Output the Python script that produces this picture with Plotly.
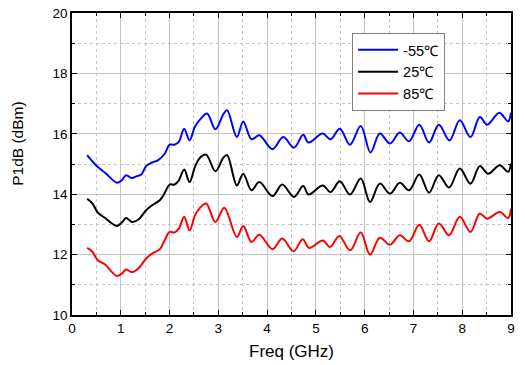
import plotly.graph_objects as go

# Blue (-55°C)
x_blue = [0.31, 0.49, 0.68, 0.92, 1.02, 1.11, 1.22, 1.33, 1.42, 1.52, 1.64, 1.76, 1.90, 2.00, 2.10, 2.19, 2.30, 2.41, 2.52, 2.65, 2.77, 2.94, 3.10, 3.18,
          3.38, 3.51, 3.68, 3.84, 4.11, 4.33, 4.55, 4.74, 4.85, 5.14, 5.30, 5.49, 5.70, 5.92, 6.12, 6.31, 6.52, 6.72, 6.91, 7.12, 7.32, 7.52, 7.74, 7.95,
          8.17, 8.36, 8.51, 8.76, 8.94, 9.0]
y_blue = [15.29, 14.96, 14.71, 14.38, 14.46, 14.63, 14.54, 14.60, 14.65, 14.93, 15.05, 15.12, 15.34, 15.64, 15.64, 15.73, 16.17, 15.78, 16.23, 16.52, 16.67, 16.15, 16.64, 16.78,
          15.89, 16.41, 15.82, 15.95, 15.49, 15.89, 15.54, 15.97, 15.71, 16.01, 15.82, 16.17, 15.64, 16.26, 15.38, 16.01, 15.68, 16.04, 15.75, 16.30, 15.71, 16.30, 15.78, 16.45,
          15.89, 16.56, 16.30, 16.70, 16.41, 16.70]

# Black (25°C)
x_black = [0.31, 0.42, 0.53, 0.68, 0.82, 0.92, 1.02, 1.11, 1.23, 1.37, 1.52, 1.64, 1.80, 1.91, 2.00, 2.10, 2.19, 2.30, 2.41, 2.52, 2.62, 2.75, 2.94, 3.10, 3.18,
           3.38, 3.51, 3.68, 3.84, 4.11, 4.31, 4.55, 4.74, 4.85, 5.14, 5.30, 5.49, 5.70, 5.92, 6.11, 6.31, 6.52, 6.72, 6.91, 7.12, 7.32, 7.52, 7.73, 7.95,
           8.17, 8.36, 8.53, 8.77, 8.94, 9.0]
y_black = [13.85, 13.69, 13.39, 13.21, 13.03, 12.95, 13.06, 13.21, 13.08, 13.17, 13.47, 13.63, 13.80, 14.07, 14.32, 14.32, 14.46, 14.82, 14.40, 14.90, 15.20, 15.31, 14.76, 15.20, 15.30,
           14.29, 14.68, 14.13, 14.40, 13.94, 14.32, 13.91, 14.27, 13.99, 14.29, 14.07, 14.43, 13.99, 14.52, 13.74, 14.35, 14.02, 14.38, 14.13, 14.65, 14.05, 14.63, 14.22, 14.85,
           14.35, 14.93, 14.68, 14.96, 14.74, 15.02]

# Red (85°C)
x_red = [0.31, 0.41, 0.53, 0.68, 0.82, 0.92, 1.02, 1.11, 1.23, 1.37, 1.52, 1.64, 1.80, 1.90, 2.00, 2.10, 2.19, 2.30, 2.41, 2.52, 2.62, 2.75, 2.94, 3.12,
         3.38, 3.51, 3.68, 3.84, 4.11, 4.31, 4.54, 4.73, 4.86, 5.14, 5.29, 5.48, 5.70, 5.92, 6.11, 6.31, 6.52, 6.72, 6.91, 7.12, 7.32, 7.52, 7.73, 7.95,
         8.17, 8.36, 8.51, 8.77, 8.94, 9.0]
y_red = [12.22, 12.11, 11.81, 11.67, 11.42, 11.29, 11.37, 11.51, 11.42, 11.56, 11.87, 12.03, 12.18, 12.47, 12.75, 12.73, 12.86, 13.25, 12.80, 13.30, 13.54, 13.69, 13.08, 13.55,
         12.58, 12.95, 12.42, 12.66, 12.18, 12.53, 12.11, 12.51, 12.22, 12.47, 12.25, 12.62, 12.14, 12.73, 12.00, 12.56, 12.33, 12.64, 12.44, 12.99, 12.44, 13.03, 12.64, 13.25,
         12.75, 13.36, 13.19, 13.41, 13.21, 13.52]

series = [("-55\u2103", x_blue, y_blue, "#0000ff"),
          ("25\u2103", x_black, y_black, "#000000"),
          ("85\u2103", x_red, y_red, "#ff0000")]

x_title = "Freq (GHz)"
y_title = "P1dB (dBm)"

FONT = "Liberation Sans, Arial, sans-serif"

fig = go.Figure()
for name, xs, ys, col in series:
    fig.add_trace(go.Scatter(x=xs, y=ys, name=name, mode="lines",
                             line=dict(color=col, width=2, shape="spline", smoothing=1.0)))

axis_common = dict(
    showline=True, linecolor="black", linewidth=1.5, mirror="allticks",
    ticks="inside", ticklen=5, tickwidth=1.2, tickcolor="black",
    showgrid=True, gridcolor="#c4c4c4", gridwidth=1,
    zeroline=False, automargin=False,
    tickfont=dict(family=FONT, size=13.5, color="black"),
)

fig.update_xaxes(range=[0, 9], dtick=1, tick0=0,
                 title=dict(text=x_title, font=dict(family=FONT, size=17, color="black"), standoff=10),
                 minor=dict(dtick=0.5, ticks="inside", ticklen=3, tickcolor="black",
                            showgrid=True, gridcolor="#c4c4c4", griddash="dot", gridwidth=1),
                 **axis_common)
fig.update_yaxes(range=[10, 20], dtick=2, tick0=10,
                 minor=dict(dtick=1, ticks="inside", ticklen=3, tickcolor="black",
                            showgrid=True, gridcolor="#c4c4c4", griddash="dot", gridwidth=1),
                 **axis_common)

# y-axis title (placed slightly above centre, as in the reference)
fig.add_annotation(text=y_title, textangle=-90, xref="paper", yref="paper",
                   x=-0.123, y=0.567, xanchor="center", yanchor="middle", showarrow=False,
                   font=dict(family=FONT, size=15.5, color="black"))

fig.update_layout(
    width=525, height=365,
    margin=dict(l=72, r=14, t=13, b=50),
    paper_bgcolor="white", plot_bgcolor="white",
    font=dict(family=FONT, color="black"),
    legend=dict(x=0.638, y=0.934, xanchor="left", yanchor="top",
                bgcolor="white", bordercolor="#808080", borderwidth=1,
                font=dict(family=FONT, size=14.5, color="black"),
                itemwidth=40, tracegroupgap=0),
    showlegend=True,
)

fig.write_html("out.html", config={"displayModeBar": False},
               post_script="document.body.style.margin='0';document.body.style.overflow='hidden';")
